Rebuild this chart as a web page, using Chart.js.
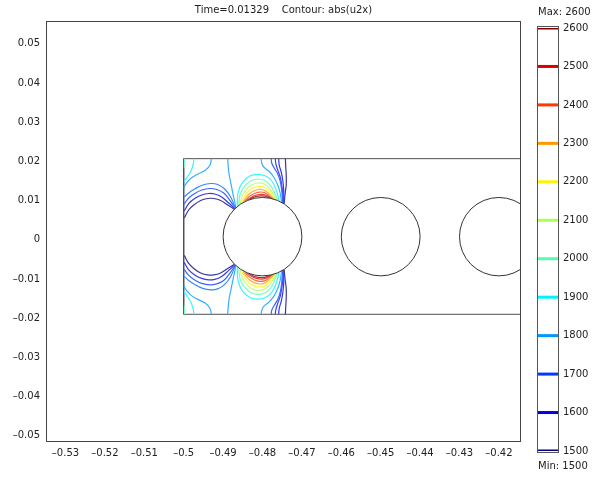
<!DOCTYPE html>
<html><head><meta charset="utf-8">
<script src="https://cdn.jsdelivr.net/npm/chart.js@4.4.1/dist/chart.umd.min.js"></script>
<style>
html,body{margin:0;padding:0;background:#fff;}
#wrap{position:relative;width:598px;height:477px;overflow:hidden;}
#main{position:absolute;left:0;top:0;}
#bar{position:absolute;left:532px;top:0;}
</style></head><body>
<div id="wrap"><canvas id="main" width="598" height="477"></canvas><canvas id="bar" width="66" height="477"></canvas></div>
<script>
// ---- texts / ticks ----
const titleTime = '0.01329';
const titleExpr = 'abs(u2x)';
const xTickValues = [-0.53,-0.52,-0.51,-0.5,-0.49,-0.48,-0.47,-0.46,-0.45,-0.44,-0.43,-0.42];
const xTickLabels = ['–0.53','–0.52','–0.51','–0.5','–0.49','–0.48','–0.47','–0.46','–0.45','–0.44','–0.43','–0.42'];
const yTickValues = [-0.05,-0.04,-0.03,-0.02,-0.01,0,0.01,0.02,0.03,0.04,0.05];
const yTickLabels = ['–0.05','–0.04','–0.03','–0.02','–0.01','0','0.01','0.02','0.03','0.04','0.05'];
const xRange = [-0.53495, -0.41439];
const yRange = [-0.05158, 0.05582];
const colorbarLevels = [1500,1600,1700,1800,1900,2000,2100,2200,2300,2400,2500,2600];
const colorbarLabels = ['1500','1600','1700','1800','1900','2000','2100','2200','2300','2400','2500','2600'];
const colorbarMin = 1500, colorbarMax = 2600;

// ---- geometry ----
const circleX = [-0.48, -0.45, -0.42];
const circleY = [0.0008, 0.0008, 0.0008];
const circleR = [0.01, 0.01, 0.01];
const channelX = [-0.41, -0.5, -0.5, -0.41];
const channelY = [0.0207, 0.0207, -0.019, -0.019];

// ---- contour lines (x, y) ----
const arc1900Top = [[-0.48642,0.00862],[-0.48617,0.01219],[-0.48503,0.01474],[-0.48325,0.01628],[-0.48122,0.01671],[-0.47919,0.01628],[-0.47766,0.015],[-0.47652,0.0127],[-0.47576,0.0099]];
const arc1900Bot = [[-0.48642,-0.00704],[-0.48617,-0.01061],[-0.48503,-0.01316],[-0.48325,-0.0147],[-0.48122,-0.01513],[-0.47919,-0.0147],[-0.47766,-0.01342],[-0.47652,-0.01112],[-0.47576,-0.00832]];
const arc2000Top = [[-0.48604,0.00888],[-0.48566,0.01168],[-0.48452,0.01372],[-0.483,0.015],[-0.48122,0.01551],[-0.47944,0.01513],[-0.47805,0.01398],[-0.47703,0.01219],[-0.47614,0.01003]];
const arc2000Bot = [[-0.48604,-0.0073],[-0.48566,-0.0101],[-0.48452,-0.01214],[-0.483,-0.01342],[-0.48122,-0.01393],[-0.47944,-0.01355],[-0.47805,-0.0124],[-0.47703,-0.01061],[-0.47614,-0.00845]];
const arc2100Top = [[-0.48566,0.00913],[-0.48515,0.01117],[-0.48414,0.01283],[-0.48274,0.01398],[-0.48122,0.01449],[-0.47957,0.01423],[-0.4783,0.01321],[-0.47728,0.01168],[-0.47639,0.01015]];
const arc2100Bot = [[-0.48566,-0.00755],[-0.48515,-0.00959],[-0.48414,-0.01125],[-0.48274,-0.0124],[-0.48122,-0.01291],[-0.47957,-0.01265],[-0.4783,-0.01163],[-0.47728,-0.0101],[-0.47639,-0.00857]];
const arc2200Top = [[-0.48528,0.00939],[-0.48464,0.01092],[-0.48363,0.01232],[-0.48249,0.01321],[-0.48109,0.0136],[-0.47969,0.01347],[-0.47855,0.0127],[-0.47754,0.01143],[-0.47665,0.01028]];
const arc2200Bot = [[-0.48528,-0.00781],[-0.48464,-0.00934],[-0.48363,-0.01074],[-0.48249,-0.01163],[-0.48109,-0.01202],[-0.47969,-0.01189],[-0.47855,-0.01112],[-0.47754,-0.00985],[-0.47665,-0.0087]];
const arc2300Top = [[-0.4849,0.00964],[-0.48414,0.01092],[-0.48325,0.01181],[-0.48223,0.01245],[-0.48096,0.01283],[-0.47969,0.0127],[-0.47868,0.01207],[-0.47779,0.01117],[-0.4769,0.01033]];
const arc2300Bot = [[-0.4849,-0.00806],[-0.48414,-0.00934],[-0.48325,-0.01023],[-0.48223,-0.01087],[-0.48096,-0.01125],[-0.47969,-0.01112],[-0.47868,-0.01049],[-0.47779,-0.00959],[-0.4769,-0.00875]];
const arc2400Top = [[-0.48452,0.00982],[-0.48363,0.01079],[-0.48274,0.01143],[-0.48173,0.01194],[-0.48071,0.01219],[-0.47957,0.01207],[-0.47868,0.01156],[-0.47792,0.01092],[-0.47716,0.01041]];
const arc2400Bot = [[-0.48452,-0.00824],[-0.48363,-0.00921],[-0.48274,-0.00985],[-0.48173,-0.01036],[-0.48071,-0.01061],[-0.47957,-0.01049],[-0.47868,-0.00998],[-0.47792,-0.00934],[-0.47716,-0.00883]];
const arc2500Top = [[-0.48401,0.01003],[-0.48312,0.01066],[-0.48223,0.01117],[-0.48122,0.0115],[-0.4802,0.01161],[-0.47919,0.01143],[-0.4783,0.01097],[-0.47754,0.01046]];
const arc2500Bot = [[-0.48401,-0.00845],[-0.48312,-0.00908],[-0.48223,-0.00959],[-0.48122,-0.00992],[-0.4802,-0.01003],[-0.47919,-0.00985],[-0.4783,-0.00939],[-0.47754,-0.00888]];
const arc2600Top = [[-0.48325,0.01043],[-0.48236,0.01081],[-0.48147,0.0111],[-0.48046,0.01122],[-0.47944,0.01115],[-0.47855,0.01089],[-0.47792,0.01058]];
const arc2600Bot = [[-0.48325,-0.00885],[-0.48236,-0.00923],[-0.48147,-0.00952],[-0.48046,-0.00964],[-0.47944,-0.00957],[-0.47855,-0.00931],[-0.47792,-0.009]];

const right1Top = [[-0.48033,0.0207],[-0.4802,0.01959],[-0.47969,0.01857],[-0.47843,0.01755],[-0.47716,0.01602],[-0.47614,0.01398],[-0.47551,0.01194],[-0.47513,0.00926]];
const right1Bot = [[-0.48033,-0.019],[-0.4802,-0.01801],[-0.47969,-0.01699],[-0.47843,-0.01597],[-0.47716,-0.01444],[-0.47614,-0.0124],[-0.47551,-0.01036],[-0.47513,-0.00768]];
const right2Top = [[-0.47779,0.0207],[-0.47766,0.01959],[-0.47703,0.01832],[-0.47614,0.01679],[-0.47551,0.015],[-0.47513,0.0127],[-0.47487,0.00926]];
const right2Bot = [[-0.47779,-0.019],[-0.47766,-0.01801],[-0.47703,-0.01674],[-0.47614,-0.01521],[-0.47551,-0.01342],[-0.47513,-0.01112],[-0.47487,-0.00768]];
const right3Top = [[-0.47673,0.0207],[-0.47665,0.01959],[-0.47614,0.01781],[-0.47551,0.01602],[-0.47513,0.01398],[-0.47487,0.01194],[-0.47475,0.00926]];
const right3Bot = [[-0.47673,-0.019],[-0.47665,-0.01801],[-0.47614,-0.01623],[-0.47551,-0.01444],[-0.47513,-0.0124],[-0.47487,-0.01036],[-0.47475,-0.00768]];
const right4Top = [[-0.47589,0.0207],[-0.47576,0.01908],[-0.47525,0.0173],[-0.47487,0.01526],[-0.47462,0.0127],[-0.47462,0.00926]];
const right4Bot = [[-0.47589,-0.019],[-0.47576,-0.0175],[-0.47525,-0.01572],[-0.47487,-0.01368],[-0.47462,-0.01112],[-0.47462,-0.00768]];
const right5Top = [[-0.47419,0.0207],[-0.47411,0.01883],[-0.47398,0.01653],[-0.47398,0.01398],[-0.47424,0.01194],[-0.4745,0.00926]];
const right5Bot = [[-0.47419,-0.019],[-0.47411,-0.01725],[-0.47398,-0.01495],[-0.47398,-0.0124],[-0.47424,-0.01036],[-0.4745,-0.00768]];

const left1Top = [[-0.4868,0.00786],[-0.48807,0.01092],[-0.4896,0.01296],[-0.49137,0.01411],[-0.49315,0.01436],[-0.49518,0.01398],[-0.49721,0.01296],[-0.49873,0.01194],[-0.49987,0.01092]];
const left1Bot = [[-0.4868,-0.00628],[-0.48807,-0.00934],[-0.4896,-0.01138],[-0.49137,-0.01253],[-0.49315,-0.01278],[-0.49518,-0.0124],[-0.49721,-0.01138],[-0.49873,-0.01036],[-0.49987,-0.00934]];
const left2Top = [[-0.4868,0.00786],[-0.48832,0.01015],[-0.48985,0.01194],[-0.49162,0.01283],[-0.4934,0.01309],[-0.49543,0.0127],[-0.49721,0.01181],[-0.49873,0.01066],[-0.49987,0.00913]];
const left2Bot = [[-0.4868,-0.00628],[-0.48832,-0.00857],[-0.48985,-0.01036],[-0.49162,-0.01125],[-0.4934,-0.01151],[-0.49543,-0.01112],[-0.49721,-0.01023],[-0.49873,-0.00908],[-0.49987,-0.00755]];
const left3Top = [[-0.4868,0.00773],[-0.48858,0.00939],[-0.49036,0.01092],[-0.49213,0.01168],[-0.49365,0.01181],[-0.49543,0.01143],[-0.49721,0.01054],[-0.49873,0.00926],[-0.49987,0.00735]];
const left3Bot = [[-0.4868,-0.00615],[-0.48858,-0.00781],[-0.49036,-0.00934],[-0.49213,-0.0101],[-0.49365,-0.01023],[-0.49543,-0.00985],[-0.49721,-0.00896],[-0.49873,-0.00768],[-0.49987,-0.00577]];
const left4Top = [[-0.4868,0.0076],[-0.48883,0.00888],[-0.49061,0.01003],[-0.49239,0.01054],[-0.49391,0.01054],[-0.49569,0.01003],[-0.49746,0.00888],[-0.49873,0.0076],[-0.49987,0.00556]];
const left4Bot = [[-0.4868,-0.00602],[-0.48883,-0.0073],[-0.49061,-0.00845],[-0.49239,-0.00896],[-0.49391,-0.00896],[-0.49569,-0.00845],[-0.49746,-0.0073],[-0.49873,-0.00602],[-0.49987,-0.00398]];
const left5Top = [[-0.48883,0.0207],[-0.48871,0.01883],[-0.48845,0.01653],[-0.48794,0.01398],[-0.48744,0.01143],[-0.48693,0.00913],[-0.4868,0.00786]];
const left5Bot = [[-0.48883,-0.019],[-0.48871,-0.01725],[-0.48845,-0.01495],[-0.48794,-0.0124],[-0.48744,-0.00985],[-0.48693,-0.00755],[-0.4868,-0.00628]];
const wallBTop = [[-0.49297,0.0207],[-0.49332,0.01908],[-0.49442,0.01781],[-0.49652,0.01671],[-0.4984,0.01551],[-0.49975,0.0138],[-0.49987,0.01321]];
const wallBBot = [[-0.49297,-0.019],[-0.49332,-0.0175],[-0.49442,-0.01623],[-0.49652,-0.01513],[-0.4984,-0.01393],[-0.49975,-0.01222],[-0.49987,-0.01163]];
const wallATop = [[-0.49739,0.0207],[-0.49764,0.01908],[-0.49822,0.01737],[-0.49906,0.0161],[-0.49975,0.015],[-0.49987,0.01474]];
const wallABot = [[-0.49739,-0.019],[-0.49764,-0.0175],[-0.49822,-0.01579],[-0.49906,-0.01452],[-0.49975,-0.01342],[-0.49987,-0.01316]];
const wallGTop = [[-0.4998,0.0207],[-0.4998,0.01832]];
const wallGBot = [[-0.4998,-0.019],[-0.4998,-0.01674]];

// table of (line, level) built from the arrays above
const contourTable = [
  [arc1900Top,1900],[arc1900Bot,1900],[arc2000Top,2000],[arc2000Bot,2000],
  [arc2100Top,2100],[arc2100Bot,2100],[arc2200Top,2200],[arc2200Bot,2200],
  [arc2300Top,2300],[arc2300Bot,2300],[arc2400Top,2400],[arc2400Bot,2400],
  [arc2500Top,2500],[arc2500Bot,2500],[arc2600Top,2600],[arc2600Bot,2600],
  [right1Top,1800],[right1Bot,1800],[right2Top,1700],[right2Bot,1700],
  [right3Top,1650],[right3Bot,1650],[right4Top,1600],[right4Bot,1600],
  [right5Top,1500],[right5Bot,1500],
  [left1Top,1750],[left1Bot,1750],[left2Top,1700],[left2Bot,1700],
  [left3Top,1600],[left3Bot,1600],[left4Top,1500],[left4Bot,1500],
  [left5Top,1800],[left5Bot,1800],[wallBTop,1800],[wallBBot,1800],
  [wallATop,1900],[wallABot,1900],[wallGTop,2000],[wallGBot,2000]
];

// jet colour map (style); soft = blend toward white for thin plot lines
function jet(level, soft){
  const t=(level-colorbarMin)/(colorbarMax-colorbarMin);
  const k=soft||0;
  const c=v=>{const x=Math.max(0,Math.min(1,v)); return Math.round(255*(x*(1-k)+k));};
  return `rgb(${c(1.5-Math.abs(4*t-3))},${c(1.5-Math.abs(4*t-2))},${c(1.5-Math.abs(4*t-1))})`;
}
const FONT = {family:'DejaVu Sans', size:10, weight:'normal'};
const TXT = '#222';

const datasets = contourTable.map(([pts,lv])=>({
  data: pts.map(p=>({x:p[0],y:p[1]})),
  borderColor: jet(lv, 0.22), borderWidth:1.2, pointRadius:0, showLine:true, tension:0.4, fill:false
}));
datasets.push({
  data: channelX.map((x,i)=>({x:x,y:channelY[i]})),
  borderColor:'#505050', borderWidth:1, pointRadius:0, showLine:true, tension:0, fill:false
});

const framePlugin = {
  id:'frame',
  afterDraw(chart){
    const a=chart.chartArea, ctx=chart.ctx;
    ctx.save(); ctx.strokeStyle='#444'; ctx.lineWidth=1;
    ctx.strokeRect(Math.round(a.left)+0.5, Math.round(a.top)+0.5, Math.round(a.right-a.left)-1, Math.round(a.bottom-a.top)-1);
    ctx.restore();
  }
};
const circlePlugin = {
  id:'circles',
  afterDatasetsDraw(chart){
    const a=chart.chartArea, ctx=chart.ctx, xs=chart.scales.x, ys=chart.scales.y;
    ctx.save();
    ctx.beginPath(); ctx.rect(a.left,a.top,a.right-a.left,a.bottom-a.top); ctx.clip();
    circleX.forEach((cx,i)=>{
      const px=xs.getPixelForValue(cx), py=ys.getPixelForValue(circleY[i]);
      const rx=Math.abs(xs.getPixelForValue(cx+circleR[i])-px);
      const ry=Math.abs(ys.getPixelForValue(circleY[i]+circleR[i])-py);
      ctx.beginPath(); ctx.ellipse(px,py,rx,ry,0,0,Math.PI*2);
      ctx.fillStyle='#fff'; ctx.fill();
      ctx.strokeStyle='#333'; ctx.lineWidth=1; ctx.stroke();
    });
    ctx.restore();
  }
};

new Chart(document.getElementById('main'), {
  type:'scatter',
  data:{datasets},
  options:{
    responsive:false, animation:false, devicePixelRatio:1,
    layout:{padding:{left:0,right:31,top:0,bottom:0}},
    plugins:{
      legend:{display:false}, tooltip:{enabled:false},
      title:{display:true, text:`Time=${titleTime}    Contour: ${titleExpr}`, color:TXT, font:FONT, padding:{top:4,bottom:5}}
    },
    scales:{
      x:{type:'linear', position:'bottom', min:xRange[0], max:xRange[1],
         grid:{display:false, drawTicks:false}, border:{display:false},
         afterBuildTicks:s=>{s.ticks=xTickValues.map(v=>({value:v}));},
         ticks:{callback:(v,i)=>xTickLabels[i], color:TXT, font:FONT, padding:5, maxRotation:0, autoSkip:false},
         afterFit:s=>{s.height=35;}},
      y:{type:'linear', position:'left', min:yRange[0], max:yRange[1],
         grid:{display:false, drawTicks:false}, border:{display:false},
         afterBuildTicks:s=>{s.ticks=yTickValues.map(v=>({value:v}));},
         ticks:{callback:(v,i)=>yTickLabels[i], color:TXT, font:FONT, padding:6, autoSkip:false},
         afterFit:s=>{s.width=46;}},
      y2:{type:'linear', position:'right', grid:{display:false, drawTicks:false}, border:{display:false},
         ticks:{display:false}, afterFit:s=>{s.width=46;}}
    }
  },
  plugins:[framePlugin, circlePlugin]
});

const boxPlugin = {
  id:'cbox',
  beforeDatasetsDraw(chart){
    const a=chart.chartArea, ctx=chart.ctx;
    ctx.save(); ctx.strokeStyle='#555'; ctx.lineWidth=1;
    ctx.strokeRect(Math.round(a.left)-0.5, Math.round(a.top)-1.5, Math.round(a.right-a.left)+1, Math.round(a.bottom-a.top)+3);
    ctx.restore();
  }
};

new Chart(document.getElementById('bar'), {
  type:'scatter',
  data:{datasets: colorbarLevels.map(lv=>({
    data:[{x:0,y:lv},{x:1,y:lv}], borderColor:jet(lv), borderWidth:3, pointRadius:0, showLine:true, fill:false
  }))},
  options:{
    responsive:false, animation:false, devicePixelRatio:1,
    layout:{padding:{left:6,right:0,top:0,bottom:0}},
    plugins:{
      legend:{display:false}, tooltip:{enabled:false},
      title:{display:true, text:`Max: ${colorbarMax}`, align:'start', color:TXT, font:FONT, padding:{top:6,bottom:10}},
      subtitle:{display:true, position:'bottom', text:`Min: ${colorbarMin}`, align:'start', color:TXT, font:FONT, padding:{top:9,bottom:5}}
    },
    scales:{
      x:{type:'linear', min:0, max:1, display:false},
      y:{type:'linear', position:'right', min:colorbarMin, max:colorbarMax,
         grid:{display:false, drawTicks:false}, border:{display:false},
         afterBuildTicks:s=>{s.ticks=colorbarLevels.map(v=>({value:v}));},
         ticks:{callback:(v,i)=>colorbarLabels[i], color:TXT, font:FONT, padding:5, autoSkip:false},
         afterFit:s=>{s.width=40;}}
    }
  },
  plugins:[boxPlugin]
});
</script>
</body></html>
